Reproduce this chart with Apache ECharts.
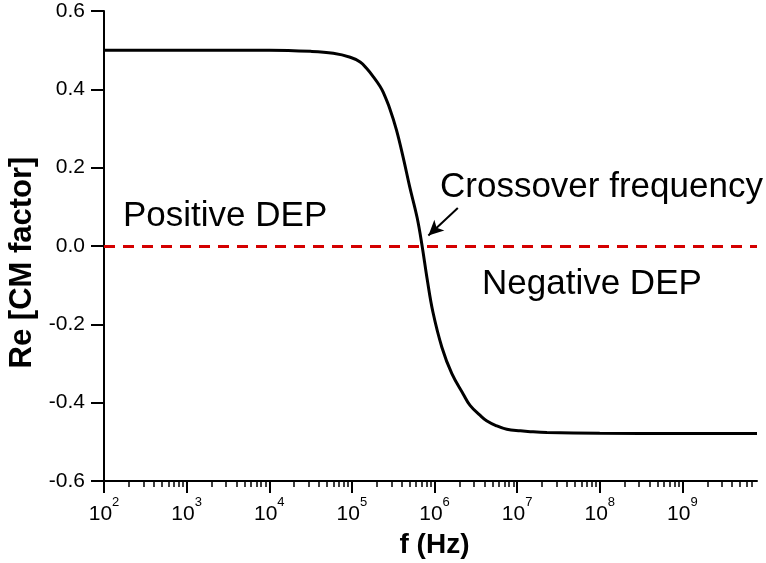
<!DOCTYPE html>
<html>
<head>
<meta charset="utf-8">
<script src="https://cdn.jsdelivr.net/npm/echarts@6/dist/echarts.min.js"></script>
<style>
  html, body { margin: 0; padding: 0; background: #fff; }
  #main { width: 766px; height: 563px; }
</style>
</head>
<body>
<div id="main"></div>
<script>
// frequency as decade exponent (log10 of f in Hz)
const logFreq = [2.00, 3.00, 4.00, 4.50, 4.775, 4.98, 5.10, 5.18, 5.26, 5.34, 5.38, 5.46, 5.54, 5.62, 5.70, 5.79, 5.85,
  5.91, 5.98, 6.09, 6.21, 6.35, 6.43, 6.55, 6.63, 6.75, 6.875, 7.04, 7.16, 7.36, 8.00, 9.00, 9.903];
const cmFactor = [0.500, 0.500, 0.500, 0.497, 0.492, 0.482, 0.470, 0.453, 0.432, 0.408, 0.392, 0.350, 0.296, 0.227, 0.151, 0.072, 0.000,
  -0.083, -0.168, -0.259, -0.326, -0.379, -0.407, -0.432, -0.446, -0.459, -0.468, -0.472, -0.474, -0.476, -0.478, -0.479, -0.479];
const decadeTicks = [2, 3, 4, 5, 6, 7, 8, 9];
const xMax = 9.903; // about 8e9 Hz
// arrow pointing at the crossover (tail -> head, in axis units)
const arrowTail = [6.282, 0.097];
const arrowHead = [5.926, 0.027];

// minor ticks at 2..9 times each decade
const minorTicks = [];
decadeTicks.forEach(function (d) {
  for (let k = 2; k <= 9; k++) {
    const v = d + Math.log10(k);
    if (v <= xMax) minorTicks.push(v);
  }
});

const font = "'Liberation Sans', Arial, sans-serif";
const chart = echarts.init(document.getElementById('main'), null, { renderer: 'canvas' });

chart.setOption({
  backgroundColor: '#fff',
  animation: false,
  grid: { left: 104, right: 9, top: 11, bottom: 82, containLabel: false, outerBoundsMode: 'none' },
  xAxis: [{
    type: 'value',
    min: 2,
    max: xMax,
    interval: 1,
    name: 'f (Hz)',
    nameLocation: 'middle',
    nameGap: 50,
    nameTextStyle: { fontFamily: font, fontWeight: 'bold', fontSize: 28, color: '#000', padding: [0, 0, 0, 8] },
    axisLine: { onZero: false, lineStyle: { color: '#000', width: 2 } },
    axisTick: { inside: false, length: 12, customValues: decadeTicks, lineStyle: { color: '#000', width: 2 } },
    axisLabel: {
      customValues: decadeTicks,
      margin: 15,
      formatter: function (v) { return '{b|10}{s|' + Math.round(v) + '}'; },
      rich: {
        b: { fontFamily: font, fontSize: 21, color: '#000', lineHeight: 36 },
        s: { fontFamily: font, fontSize: 13, color: '#000', lineHeight: 13, verticalAlign: 'top' }
      }
    },
    splitLine: { show: false }
  }, {
    type: 'value',
    position: 'bottom',
    min: 2,
    max: xMax,
    axisLine: { show: false, onZero: false },
    axisTick: { inside: false, length: 6, customValues: minorTicks, lineStyle: { color: '#000', width: 1.5 } },
    axisLabel: { show: false },
    splitLine: { show: false }
  }],
  yAxis: {
    type: 'value',
    min: -0.6,
    max: 0.6,
    interval: 0.2,
    name: 'Re [CM factor]',
    nameLocation: 'middle',
    nameGap: 60,
    nameTextStyle: { fontFamily: font, fontWeight: 'bold', fontSize: 31, color: '#000', padding: [0, 33, 0, 0] },
    axisLine: { onZero: false, lineStyle: { color: '#000', width: 2 } },
    axisTick: { inside: false, length: 13, lineStyle: { color: '#000', width: 2 } },
    axisLabel: {
      margin: 19,
      fontFamily: font,
      fontSize: 21,
      color: '#000',
      formatter: function (v) { return v.toFixed(1); }
    },
    splitLine: { show: false }
  },
  series: [{
    type: 'line',
    xAxisIndex: 0,
    data: logFreq.map(function (x, i) { return [x, cmFactor[i]]; }),
    showSymbol: false,
    smooth: 0.4,
    lineStyle: { color: '#000', width: 3 },
    z: 3,
    markLine: {
      silent: true,
      animation: false,
      label: { show: false },
      data: [
        [{ coord: [2, 0], symbol: 'none' }, { coord: [xMax, 0], symbol: 'none',
          lineStyle: { color: '#d40000', width: 3, type: [11, 8] } }],
        [{ coord: arrowTail, symbol: 'none' }, { coord: arrowHead, symbol: 'arrow', symbolSize: [11, 15],
          lineStyle: { color: '#000', width: 2, type: 'solid' } }]
      ]
    }
  }],
  graphic: [
    { type: 'text', left: 123, top: 199, style: { text: 'Positive DEP', font: '35px ' + font, fill: '#000' } },
    { type: 'text', left: 440, top: 170, style: { text: 'Crossover frequency', font: '35px ' + font, fill: '#000' } },
    { type: 'text', left: 482, top: 267, style: { text: 'Negative DEP', font: '35px ' + font, fill: '#000' } }
  ]
});
</script>
</body>
</html>
